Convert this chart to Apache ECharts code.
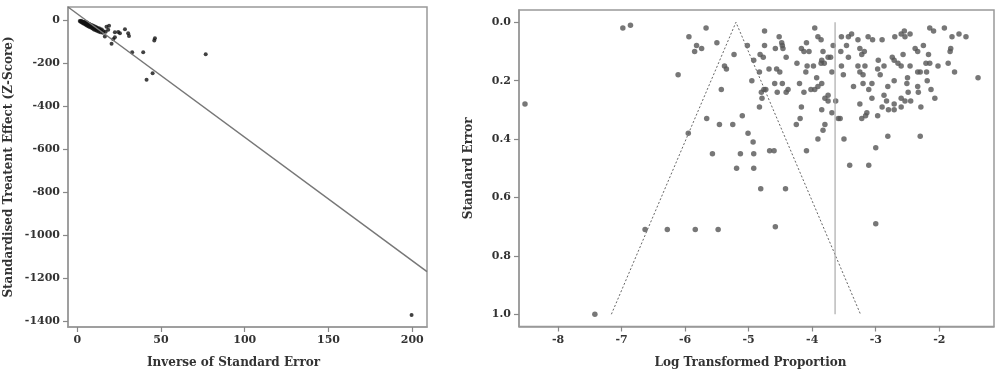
<!DOCTYPE html>
<html>
<head>
<meta charset="utf-8">
<script src="https://cdn.jsdelivr.net/npm/echarts@6/dist/echarts.min.js"></script>
<style>
html,body{margin:0;padding:0;background:#fff;}
#chart{width:1000px;height:377px;}
</style>
</head>
<body>
<div id="chart"></div>
<script>
// ---------- Left panel: Galbraith-type plot ----------
const leftXTicks = [0, 50, 100, 150, 200];
const leftYTicks = [0, -200, -400, -600, -800, -1000, -1200, -1400];
const leftXName = 'Inverse of Standard Error';
const leftYName = 'Standardised Treatent Effect (Z-Score)';
// [inverse SE, z-score]
const leftPoints = [
  [1.5,-5],[2,-8],[2.3,-4],[2.8,-12],[3,-7],[3.4,-14],[3.6,-10],[4,-18],[4.2,-13],[4.5,-9],
  [4.8,-20],[5,-15],[5.3,-24],[5.5,-18],[5.8,-12],[6,-27],[6.2,-21],[6.5,-16],[6.8,-30],[7,-24],
  [7.3,-19],[7.6,-33],[7.8,-27],[8,-22],[8.4,-36],[8.6,-30],[8.9,-25],[9.2,-40],[9.4,-33],[9.7,-28],
  [10,-44],[10.2,-37],[10.5,-31],[10.8,-47],[11,-40],[11.4,-34],[11.7,-50],[12,-43],[12.3,-37],
  [12.7,-54],[13,-46],[13.4,-40],[13.8,-57],[14.2,-49],[14.7,-44],[15.2,-60],[15.6,-52],
  [17.5,-32],[19,-27],[18.5,-45],[17,-55],[22.5,-57],[24.5,-56],[25.5,-62],[28.5,-43],[30.4,-62],
  [30.9,-74],[16.5,-77],[22.5,-80],[21.5,-90],[20.5,-111],[46.4,-85],[46,-96],[32.8,-150],
  [39.4,-150],[76.7,-159],[45,-247],[41.4,-278],[199.6,-1369]
];
// regression line end points (at the axis extent)
const leftLine = [[-5.5, 60], [208.8, -1168]];

// ---------- Right panel: funnel plot ----------
const rightXTicks = [-8, -7, -6, -5, -4, -3, -2];
const rightYTicks = [0, 0.2, 0.4, 0.6, 0.8, 1.0];
const rightXName = 'Log Transformed Proportion';
const rightYName = 'Standard Error';
// [log proportion, standard error]
const rightPoints = [
  [-6.98,0.02],[-6.86,0.01],[-8.52,0.28],[-7.42,1.00],[-6.11,0.18],[-5.94,0.05],[-5.82,0.08],[-5.85,0.10],[-5.74,0.09],[-5.67,0.02],
  [-5.50,0.07],[-5.23,0.11],[-5.38,0.15],[-5.35,0.16],[-5.02,0.08],[-4.75,0.03],[-4.75,0.08],[-4.58,0.09],[-4.52,0.05],[-4.48,0.07],
  [-4.47,0.08],[-4.46,0.09],[-4.82,0.11],[-4.77,0.12],[-4.92,0.13],[-4.41,0.12],[-4.24,0.14],[-4.83,0.17],[-4.68,0.16],[-4.56,0.16],
  [-4.51,0.17],[-4.95,0.20],[-4.59,0.21],[-4.47,0.21],[-4.20,0.21],
  [-3.96,0.02],[-3.91,0.05],[-3.86,0.06],[-4.09,0.07],[-4.17,0.09],[-4.13,0.10],[-4.05,0.10],[-4.08,0.15],[-3.98,0.15],[-4.10,0.17],
  [-3.85,0.13],[-3.81,0.14],[-3.75,0.12],[-3.71,0.12],[-3.86,0.14],[-3.67,0.08],[-3.83,0.10],[-3.69,0.17],[-3.93,0.19],[-3.85,0.21],
  [-3.54,0.05],[-3.43,0.05],[-3.38,0.04],[-3.46,0.08],[-3.28,0.06],[-3.12,0.05],[-3.05,0.06],[-2.90,0.06],[-3.55,0.10],[-3.43,0.12],
  [-3.25,0.09],[-3.18,0.10],[-3.22,0.11],[-3.54,0.15],[-3.51,0.18],[-3.28,0.15],[-3.17,0.15],[-3.25,0.17],[-3.20,0.18],[-2.96,0.13],
  [-2.87,0.15],[-2.97,0.16],[-2.93,0.18],
  [-2.70,0.05],[-2.60,0.04],[-2.55,0.03],[-2.54,0.05],[-2.46,0.04],[-2.74,0.12],[-2.71,0.13],[-2.57,0.11],[-2.65,0.14],[-2.60,0.15],
  [-2.46,0.15],[-2.38,0.09],[-2.34,0.10],[-2.25,0.08],[-2.17,0.11],[-2.15,0.02],[-2.09,0.03],[-1.92,0.02],[-1.80,0.05],[-1.69,0.04],
  [-1.58,0.05],[-1.82,0.09],[-1.83,0.10],[-2.21,0.14],[-2.15,0.14],[-2.30,0.17],[-2.34,0.17],[-2.20,0.17],[-2.02,0.15],[-1.86,0.14],
  [-1.76,0.17],[-2.50,0.19],[-2.51,0.21],[-2.71,0.20],[-2.34,0.22],[-1.39,0.19],[-3.06,0.21],[-3.35,0.22],[-3.20,0.21],[-2.19,0.20],
  [-4.13,0.24],[-4.02,0.23],[-3.96,0.23],[-3.91,0.22],[-3.75,0.25],[-3.80,0.26],[-3.75,0.27],[-3.63,0.27],[-4.17,0.29],[-3.85,0.30],
  [-3.69,0.31],[-4.19,0.33],[-4.25,0.35],[-3.59,0.33],[-3.56,0.33],[-3.80,0.35],[-3.83,0.37],[-3.91,0.40],[-4.09,0.44],[-3.50,0.40],
  [-3.11,0.23],[-3.06,0.26],[-3.25,0.28],[-3.22,0.33],[-3.16,0.32],[-3.14,0.31],[-2.97,0.32],[-2.90,0.29],[-2.87,0.25],[-2.83,0.27],
  [-2.80,0.30],[-2.71,0.30],[-2.81,0.22],[-2.71,0.28],[-2.60,0.26],[-2.60,0.29],[-2.54,0.27],[-2.49,0.24],[-2.45,0.27],[-2.33,0.24],
  [-2.29,0.29],[-2.13,0.23],[-2.07,0.26],[-2.81,0.39],[-2.30,0.39],[-3.00,0.43],
  [-5.43,0.23],[-4.76,0.23],[-4.73,0.23],[-4.80,0.24],[-4.79,0.26],[-4.41,0.24],[-4.55,0.24],[-4.38,0.23],[-4.83,0.29],[-5.10,0.32],
  [-5.66,0.33],[-5.46,0.35],[-5.25,0.35],[-5.95,0.38],[-5.01,0.38],[-4.93,0.41],[-5.57,0.45],[-5.13,0.45],[-4.92,0.45],[-4.67,0.44],
  [-4.60,0.44],[-5.19,0.50],[-4.92,0.50],[-3.41,0.49],[-3.11,0.49],[-4.81,0.57],[-4.42,0.57],[-6.63,0.71],[-6.28,0.71],[-5.84,0.71],
  [-5.48,0.71],[-4.58,0.70],[-3.00,0.69]
];
// funnel (pseudo 95% limits) and pooled-estimate line
const funnelLine = [[-7.16, 1.0], [-5.2, 0.0], [-3.24, 1.0]];
const pooledLine = [[-3.64, 0.0], [-3.64, 1.0]];

const tickFont = {fontFamily: 'DejaVu Serif', fontWeight: 'bold', fontSize: 11, color: '#333'};
const nameFont = {fontFamily: 'DejaVu Serif', fontWeight: 'bold', fontSize: 12, color: '#333'};

function valueAxis(o) {
  return Object.assign({
    type: 'value',
    splitLine: {show: false},
    axisLine: {show: true, onZero: false, lineStyle: {color: '#999', width: 1.5}},
    axisTick: {show: true, inside: false, length: 5, lineStyle: {color: '#888', width: 1.2}, customValues: o.ticks},
    axisLabel: Object.assign({margin: 8, customValues: o.ticks, formatter: o.fmt || (v => String(v))}, tickFont),
    nameLocation: 'middle',
    nameTextStyle: Object.assign({}, nameFont, o.namePad ? {padding: o.namePad} : {})
  }, o.extra);
}

const chart = echarts.init(document.getElementById('chart'), null, {renderer: 'canvas'});
chart.setOption({
  animation: false,
  backgroundColor: '#fff',
  grid: [
    {left: 68, top: 7, width: 359, height: 320, show: true, borderColor: '#999', borderWidth: 1.5, containLabel: false},
    {left: 519, top: 10, width: 475, height: 316.5, show: true, borderColor: '#999', borderWidth: 1.5, containLabel: false}
  ],
  xAxis: [
    valueAxis({ticks: leftXTicks, namePad: [0, 28, 0, 0], extra: {gridIndex: 0, position: 'bottom', min: -5.5, max: 208.8, name: leftXName, nameGap: 30}}),
    valueAxis({ticks: rightXTicks, namePad: [0, 12, 0, 0], extra: {gridIndex: 1, position: 'bottom', min: -8.614, max: -1.139, name: rightXName, nameGap: 30}})
  ],
  yAxis: [
    valueAxis({ticks: leftYTicks, extra: {gridIndex: 0, position: 'left', min: -1425, max: 60, name: leftYName, nameGap: 53, nameRotate: 90}}),
    valueAxis({ticks: rightYTicks, fmt: v => v.toFixed(1), extra: {gridIndex: 1, position: 'left', min: -0.042, max: 1.042, inverse: true, name: rightYName, nameGap: 44, nameRotate: 90}})
  ],
  series: [
    {type: 'line', xAxisIndex: 0, yAxisIndex: 0, data: leftLine, symbol: 'none', lineStyle: {color: '#777', width: 1.5}, silent: true},
    {type: 'scatter', xAxisIndex: 0, yAxisIndex: 0, data: leftPoints, symbolSize: 4, itemStyle: {color: '#111'}},
    {type: 'line', xAxisIndex: 1, yAxisIndex: 1, data: funnelLine, symbol: 'none', lineStyle: {color: '#666', width: 1, type: [2, 2]}, silent: true},
    {type: 'line', xAxisIndex: 1, yAxisIndex: 1, data: pooledLine, symbol: 'none', lineStyle: {color: '#aaa', width: 1.2}, silent: true},
    {type: 'scatter', xAxisIndex: 1, yAxisIndex: 1, data: rightPoints, symbolSize: 5.5, itemStyle: {color: '#555'}}
  ]
});
</script>
</body>
</html>
